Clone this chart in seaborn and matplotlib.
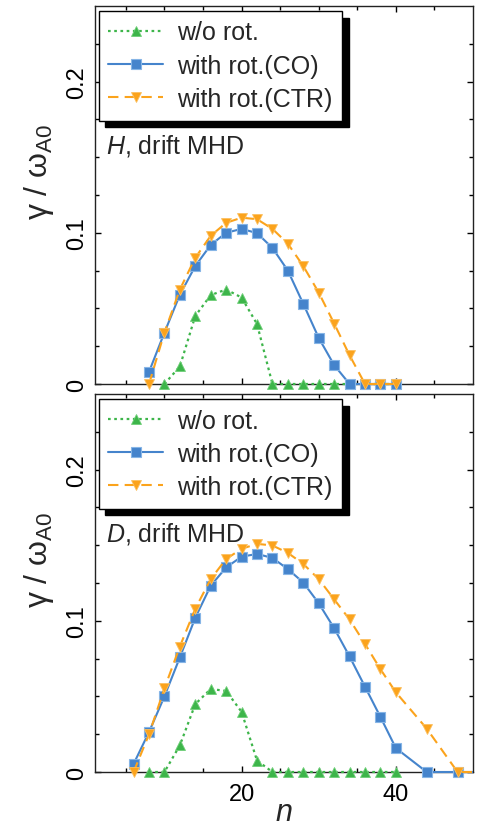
import matplotlib
matplotlib.use("Agg")
import matplotlib.pyplot as plt
from matplotlib.transforms import Bbox, TransformedBbox
import seaborn as sns
import numpy as np

sns.set_style("ticks")
plt.rcParams['font.family'] = ['Liberation Sans', 'DejaVu Sans']
plt.rcParams['mathtext.fontset'] = 'custom'
plt.rcParams['mathtext.rm'] = 'Liberation Sans'
plt.rcParams['mathtext.it'] = 'Liberation Sans:italic'

# ---- data: H, drift MHD (top) ----
n_top = [8, 10, 12, 14, 16, 18, 20, 22, 24, 26, 28, 30, 32, 34, 36, 38, 40]
top_co = [0.008, 0.034, 0.059, 0.078, 0.092, 0.100, 0.1026, 0.0998, 0.090, 0.075,
          0.053, 0.0305, 0.0125, 0.0, 0.0, 0.0, 0.0]
top_ctr = [0.0, 0.034, 0.0625, 0.0835, 0.098, 0.1066, 0.110, 0.109, 0.1026, 0.0928,
           0.078, 0.0605, 0.040, 0.019, 0.0, 0.0, 0.0]
n_top_wo = [10, 12, 14, 16, 18, 20, 22, 24, 26, 28, 30, 32, 34, 36, 38, 40]
top_wo = [0.0, 0.0116, 0.045, 0.0588, 0.0625, 0.0572, 0.0397, 0.0, 0.0, 0.0,
          0.0, 0.0, 0.0, 0.0, 0.0, 0.0]

# ---- data: D, drift MHD (bottom) ----
n_bot = [6, 8, 10, 12, 14, 16, 18, 20, 22, 24, 26, 28, 30, 32, 34, 36, 38, 40, 44, 48, 52]
bot_co = [0.0053, 0.0264, 0.050, 0.0758, 0.102, 0.1232, 0.1353, 0.1424, 0.1442, 0.1416,
          0.1342, 0.1253, 0.1116, 0.0951, 0.0764, 0.0564, 0.0364, 0.0158, 0.0, 0.0, 0.0]
bot_ctr = [0.0, 0.0249, 0.0553, 0.083, 0.108, 0.1276, 0.1409, 0.1476, 0.1509, 0.1498,
           0.1449, 0.1376, 0.1276, 0.1142, 0.1009, 0.0847, 0.068, 0.0527, 0.0287, 0.0, 0.0]
n_bot_wo = [8, 10, 12, 14, 16, 18, 20, 22, 24, 26, 28, 30, 32, 34, 36, 38, 40]
bot_wo = [0.0, 0.0, 0.0176, 0.0449, 0.0549, 0.0536, 0.0398, 0.0076, 0.0, 0.0,
          0.0, 0.0, 0.0, 0.0, 0.0, 0.0, 0.0]

labels = ["w/o rot.", "with rot.(CO)", "with rot.(CTR)"]
panel_text = ["$H$, drift MHD", "$D$, drift MHD"]

c_green = "#3DB54A"
c_blue = "#4584CC"
c_orange = "#FBA31C"

W, H = 479, 828
fig = plt.figure(figsize=(W / 100, H / 100), dpi=100)
ax1 = fig.add_axes([95 / W, 1 - 385 / H, 378 / W, 378 / H])
ax2 = fig.add_axes([95 / W, 1 - 773 / H, 378 / W, 378 / H])

datasets = [
    (ax1, n_top_wo, top_wo, n_top, top_co, top_ctr, panel_text[0]),
    (ax2, n_bot_wo, bot_wo, n_bot, bot_co, bot_ctr, panel_text[1]),
]

for i, (ax, nwo, ywo, nr, yco, yctr, ptxt) in enumerate(datasets):
    sns.lineplot(x=nwo, y=ywo, ax=ax, color=c_green, marker="^", markersize=7.5,
                 markeredgecolor="#6fcf78", markeredgewidth=0.6,
                 linestyle=(0, (1.2, 1.6)), linewidth=1.6,
                 label=labels[0], zorder=3)
    sns.lineplot(x=nr, y=yco, ax=ax, color=c_blue, marker="s", markersize=6.5,
                 markeredgecolor="#86b5e6", markeredgewidth=0.8, linestyle="-",
                 linewidth=1.5, label=labels[1], zorder=4)
    sns.lineplot(x=nr, y=yctr, ax=ax, color=c_orange, marker="v", markersize=7.5,
                 markeredgecolor="#fcc060", markeredgewidth=0.6,
                 linestyle=(0, (5, 3)), linewidth=1.5,
                 label=labels[2], zorder=5)

    # let markers at zero extend below the axis, but clip at the right edge
    clip = TransformedBbox(Bbox([[0.0, -0.04], [1.0, 1.0]]), ax.transAxes)
    for ln in ax.lines:
        ln.set_clip_box(clip)

    ax.set_xlim(1, 50)
    ax.set_ylim(0, 0.25)
    ax.set_xticks([20, 40])
    ax.set_xticks([5, 10, 15, 25, 30, 35, 45], minor=True)
    ax.set_yticks([0, 0.1, 0.2])
    ax.set_yticklabels(["0", "0.1", "0.2"], rotation=90, va="center")
    ax.set_yticks(np.arange(0.025, 0.25, 0.025), minor=True)
    ax.tick_params(which="both", direction="in", top=True, right=True,
                   labelsize=17, colors="black", width=1)
    ax.tick_params(which="major", length=4)
    ax.tick_params(axis="x", which="major", pad=8)
    ax.tick_params(axis="y", which="major", pad=5)
    ax.tick_params(which="minor", length=3)
    for s in ax.spines.values():
        s.set_linewidth(1.0)
        s.set_color("#222222")
    ax.set_ylabel("γ / ω$_{\\mathrm{A0}}$", fontsize=23)
    ax.yaxis.set_label_coords(-0.103, 0.565)
    if i == 0:
        ax.tick_params(labelbottom=False)
        ax.set_xlabel("")
    else:
        ax.set_xlabel("$n$", fontsize=22, labelpad=-6)

    ax.text(0.028, 0.632, ptxt, transform=ax.transAxes, fontsize=18,
            ha="left", va="center")

    leg = ax.legend(loc="upper left", bbox_to_anchor=(3.5 / 378, 1 - 5 / 378),
                    borderaxespad=0, fontsize=18, frameon=True, fancybox=False,
                    framealpha=1, edgecolor="black",
                    handlelength=2.2, handletextpad=0.55, labelspacing=0.37,
                    borderpad=0.38,
                    shadow={"ox": 5, "oy": -5, "color": "black", "alpha": 1})
    leg.get_frame().set_linewidth(1.0)

fig.savefig("out.png", dpi=100)
